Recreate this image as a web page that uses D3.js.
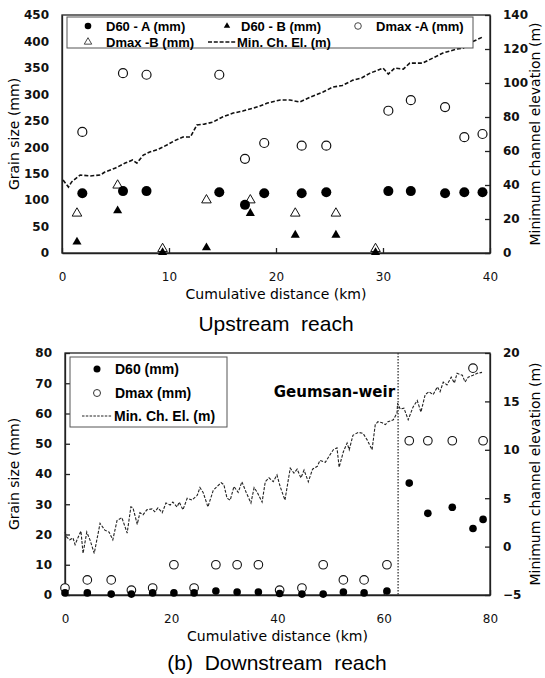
<!DOCTYPE html>
<html>
<head>
<meta charset="utf-8">
<script src="https://cdn.jsdelivr.net/npm/d3@7"></script>
<style>
body { margin: 0; background: white; }
</style>
</head>
<body>
<script>
// UPSTREAM REACH DATA
const upKmA = [1.9, 5.7, 7.9, 14.7, 17.1, 18.9, 22.4, 24.7, 30.5, 32.6, 35.8, 37.6, 39.3];
const upD60A = [113, 117, 117, 115, 91, 113, 113, 115, 117, 117, 113, 115, 115];
const upDmaxA = [229, 340, 337, 337, 178, 208, 203, 203, 269, 289, 276, 219, 225];
const upKmB = [1.4, 5.2, 9.4, 13.5, 17.6, 21.8, 25.6, 29.3];
const upD60B = [21, 80, 1, 10, 75, 34, 34, 1];
const upDmaxB = [75, 128, 8, 100, 100, 75, 75, 8];
const upElevKm = [0.1, 0.6, 0.9, 1.7, 2.6, 3.6, 4.0, 5.0, 5.9, 6.6, 7.0, 7.6, 8.2, 9.0, 9.8, 10.5, 11.3, 12.0, 12.6, 13.3, 14.1, 15.0, 16.0, 16.9, 17.9, 18.5, 19.2, 20.4, 21.3, 22.2, 23.2, 24.4, 25.3, 26.2, 27.2, 28.0, 28.8, 30.0, 30.5, 31.1, 31.9, 32.5, 33.7, 34.6, 35.6, 36.9, 37.5, 38.1, 39.3];
const upElev = [42.9, 38.8, 41.8, 45.9, 45.3, 45.9, 47.6, 50.0, 52.9, 54.7, 52.9, 57.6, 59.4, 61.0, 63.5, 66.0, 68.2, 68.2, 75.3, 75.8, 77.0, 80.0, 82.3, 83.5, 85.3, 86.5, 88.2, 90.0, 90.0, 88.8, 91.7, 94.7, 97.6, 98.5, 101.7, 103.0, 105.8, 108.8, 105.3, 108.8, 108.2, 111.7, 111.7, 114.5, 117.6, 120.0, 120.5, 123.5, 127.0];

// DOWNSTREAM REACH DATA
const dnKm = [0, 4.2, 8.7, 12.5, 16.5, 20.5, 24.3, 28.4, 32.4, 36.4, 40.4, 44.6, 48.6, 52.4, 56.3, 60.6, 64.8, 68.3, 72.9, 76.8, 78.7];
const dnD60 = [0.7, 0.7, 0.3, 0.3, 0.7, 0.7, 0.7, 1.3, 1, 1, 0.5, 0.3, 0.3, 1, 0.7, 1.3, 37, 27, 29, 22, 25];
const dnDmax = [2.3, 5, 5, 1.6, 2.3, 10, 2.3, 10, 10, 10, 1.6, 2.3, 10, 5, 5, 10, 51, 51, 51, 75, 51];
const dnElevKm = [0, 0.3, 0.9, 1.5, 1.9, 2.5, 3.0, 3.4, 4.1, 4.7, 5.5, 6.6, 7.5, 8.3, 9.0, 9.8, 10.7, 11.7, 12.4, 12.8, 13.6, 14.1, 14.7, 15.4, 16.4, 16.9, 17.5, 18.3, 19.0, 19.8, 20.3, 21.1, 21.5, 22.2, 23.0, 23.9, 24.9, 25.4, 26.0, 26.9, 27.9, 28.6, 29.4, 29.9, 30.5, 31.1, 31.8, 32.6, 33.3, 34.1, 35.0, 35.6, 36.2, 37.1, 37.7, 38.4, 39.2, 39.9, 40.5, 41.4, 42.4, 43.1, 43.7, 44.4, 45.0, 45.8, 46.6, 47.5, 48.0, 49.0, 49.9, 50.5, 51.2, 51.6, 52.4, 53.1, 53.5, 54.2, 55.2, 56.1, 56.9, 57.8, 58.4, 58.9, 59.7, 60.3, 60.8, 61.8, 62.5, 62.6, 63.1, 63.8, 64.6, 65.5, 66.3, 67.0, 67.8, 68.5, 69.3, 70.1, 70.6, 71.2, 71.9, 72.7, 73.3, 73.8, 74.8, 75.3, 75.9, 76.8, 77.6, 78.5];
const dnElev = [1.5, 1.0, 0.7, 0.9, 0.2, 1.0, 1.6, -0.7, 1.5, 0.7, -0.7, 2.4, 1.7, 1.5, 0.7, 2.7, 3.0, 1.4, 4.1, 4.0, 2.3, 3.5, 3.3, 3.8, 3.9, 3.6, 4.0, 3.5, 4.5, 4.3, 4.6, 4.1, 4.6, 3.8, 5.0, 4.8, 5.3, 6.1, 5.6, 4.1, 5.8, 6.2, 6.6, 6.4, 5.0, 4.8, 6.2, 5.6, 6.7, 5.6, 4.5, 6.1, 5.6, 4.6, 6.7, 7.1, 6.7, 7.4, 6.2, 4.8, 8.1, 7.6, 8.0, 7.1, 7.9, 6.7, 8.0, 8.3, 8.9, 8.7, 9.5, 10.0, 10.2, 8.2, 9.8, 10.7, 10.0, 11.5, 11.8, 11.7, 11.0, 10.0, 12.6, 12.9, 12.8, 12.6, 12.9, 13.1, 13.8, 14.8, 14.2, 14.3, 13.1, 14.4, 15.1, 13.9, 15.7, 16.0, 15.7, 16.5, 16.0, 17.0, 16.7, 17.5, 16.9, 17.9, 17.7, 17.0, 17.5, 17.7, 17.9, 18.0];
const weirKm = 62.7;

const W = 545, H = 678;
const svg = d3.select("body").append("svg")
    .attr("width", W).attr("height", H)
    .style("background", "white");

const axisColor = "#222";

// draw frame + 3 axes for one panel
function drawAxes(x, yL, yR, xTicks, yLTicks, yRTicks, leftTickSize) {
    const g = svg.append("g");
    const [x0, x1] = x.range();
    const [yb, yt] = yL.range();

    g.append("g").attr("transform", `translate(0,${yb})`)
        .call(d3.axisBottom(x).tickValues(xTicks).tickSize(-5).tickSizeOuter(0).tickPadding(19))
        .call(a => a.selectAll("text").style("font", "12px 'DejaVu Sans'").attr("fill", "#111"));
    g.append("g").attr("transform", `translate(${x0},0)`)
        .call(d3.axisLeft(yL).tickValues(yLTicks).tickSize(-leftTickSize).tickSizeOuter(0).tickPadding(13))
        .call(a => a.selectAll("text").style("font", "bold 12px 'DejaVu Sans'").attr("fill", "#111"));
    g.append("g").attr("transform", `translate(${x1},0)`)
        .call(d3.axisRight(yR).tickValues(yRTicks).tickSize(-5).tickSizeOuter(0).tickPadding(13))
        .call(a => a.selectAll("text").style("font", "bold 12px 'DejaVu Sans'").attr("fill", "#111"));
    g.selectAll("line, path").attr("stroke", axisColor).attr("stroke-width", 1.3);

    // top border
    g.append("rect").attr("x", x0).attr("y", yt).attr("width", x1 - x0).attr("height", yb - yt)
        .attr("fill", "none").attr("stroke", axisColor).attr("stroke-width", 1.3);

    // titles
    g.append("text").attr("x", (x0 + x1) / 2).attr("y", yb + 46)
        .attr("text-anchor", "middle").style("font", "14px 'DejaVu Sans'")
        .text("Cumulative distance (km)");
    g.append("text").attr("transform", `translate(19,${(yb + yt) / 2}) rotate(-90)`)
        .attr("text-anchor", "middle").style("font", "14px 'DejaVu Sans'")
        .text("Grain size (mm)");
    g.append("text").attr("transform", `translate(540,${(yb + yt) / 2}) rotate(-90)`)
        .attr("text-anchor", "middle").style("font", "14px 'DejaVu Sans'")
        .text("Minimum channel elevation (m)");
    return g;
}

// ================= UPSTREAM =================
const x1 = d3.scaleLinear().domain([0, 40]).range([62, 490]);
const y1 = d3.scaleLinear().domain([0, 450]).range([253, 15]);
const y1r = d3.scaleLinear().domain([0, 140]).range([253, 15]);

drawAxes(x1, y1, y1r, d3.range(0, 41, 10), d3.range(0, 451, 50), d3.range(0, 141, 20), 0);

const tri = d3.symbol().type(d3.symbolTriangle);

svg.append("path")
    .datum(upElevKm.map((k, i) => [k, upElev[i]]))
    .attr("fill", "none").attr("stroke", "#111").attr("stroke-width", 1.6)
    .attr("stroke-dasharray", "4,2")
    .attr("d", d3.line().x(d => x1(d[0])).y(d => y1r(d[1])));

svg.append("g").selectAll("circle").data(upKmA).enter().append("circle")
    .attr("cx", d => x1(d)).attr("cy", (d, i) => y1(upDmaxA[i])).attr("r", 4.5)
    .attr("fill", "white").attr("stroke", "#111").attr("stroke-width", 1.2);
svg.append("g").selectAll("path").data(upKmB).enter().append("path")
    .attr("transform", (d, i) => `translate(${x1(d)},${y1(upDmaxB[i])})`)
    .attr("d", tri.size(40)).attr("fill", "white").attr("stroke", "#111").attr("stroke-width", 1);
svg.append("g").selectAll("path").data(upKmB).enter().append("path")
    .attr("transform", (d, i) => `translate(${x1(d)},${y1(upD60B[i])})`)
    .attr("d", tri.size(36)).attr("fill", "#000");
svg.append("g").selectAll("circle").data(upKmA).enter().append("circle")
    .attr("cx", d => x1(d)).attr("cy", (d, i) => y1(upD60A[i])).attr("r", 5)
    .attr("fill", "#000");

// legend (upstream)
const leg1 = svg.append("g").style("font", "13px 'Liberation Sans', Arial").style("font-weight", "600");
leg1.append("rect").attr("x", 67).attr("y", 17).attr("width", 406).attr("height", 31)
    .attr("fill", "white").attr("stroke", "#555").attr("stroke-width", 1);
leg1.append("circle").attr("cx", 88).attr("cy", 26).attr("r", 3.3).attr("fill", "#000");
leg1.append("text").attr("x", 106).attr("y", 30.5).text("D60 - A (mm)");
leg1.append("path").attr("transform", "translate(227,26)").attr("d", tri.size(18)).attr("fill", "#000");
leg1.append("text").attr("x", 241).attr("y", 30.5).text("D60 - B (mm)");
leg1.append("circle").attr("cx", 358).attr("cy", 26).attr("r", 3.3).attr("fill", "white").attr("stroke", "#333").attr("stroke-width", 0.9);
leg1.append("text").attr("x", 376).attr("y", 30.5).text("Dmax -A (mm)");
leg1.append("path").attr("transform", "translate(88,42)").attr("d", tri.size(24)).attr("fill", "white").attr("stroke", "#333").attr("stroke-width", 0.9);
leg1.append("text").attr("x", 106).attr("y", 46.5).text("Dmax -B (mm)");
leg1.append("line").attr("x1", 208).attr("x2", 236).attr("y1", 42).attr("y2", 42)
    .attr("stroke", "#111").attr("stroke-width", 1.4).attr("stroke-dasharray", "4,1.8");
leg1.append("text").attr("x", 237).attr("y", 46.5).text("Min. Ch. El. (m)");

svg.append("text").attr("x", 276).attr("y", 331).attr("text-anchor", "middle")
    .style("font", "21px 'Liberation Sans', Arial").attr("xml:space", "preserve")
    .text("Upstream  reach");

// ================= DOWNSTREAM =================
const x2 = d3.scaleLinear().domain([0, 80]).range([65, 490]);
const y2 = d3.scaleLinear().domain([0, 80]).range([595, 353]);
const y2r = d3.scaleLinear().domain([-5, 20]).range([595, 353]);

drawAxes(x2, y2, y2r, d3.range(0, 81, 20), d3.range(0, 81, 10), d3.range(-5, 21, 5), 5);

// weir marker
svg.append("line").attr("x1", x2(weirKm)).attr("x2", x2(weirKm)).attr("y1", 353).attr("y2", 595)
    .attr("stroke", "#333").attr("stroke-width", 1.3).attr("stroke-dasharray", "1.5,1.5");
svg.append("text").attr("x", x2(weirKm) - 3).attr("y", 397).attr("text-anchor", "end")
    .style("font", "bold 15px 'DejaVu Sans'").text("Geumsan-weir");

svg.append("path")
    .datum(dnElevKm.map((k, i) => [k, dnElev[i]]))
    .attr("fill", "none").attr("stroke", "#222").attr("stroke-width", 1.1)
    .attr("stroke-dasharray", "3,1.5")
    .attr("d", d3.line().x(d => x2(d[0])).y(d => y2r(d[1])));

svg.append("g").selectAll("circle").data(dnKm).enter().append("circle")
    .attr("cx", d => x2(d)).attr("cy", (d, i) => y2(dnDmax[i])).attr("r", 4.3)
    .attr("fill", "white").attr("stroke", "#111").attr("stroke-width", 1.1);
svg.append("g").selectAll("circle").data(dnKm).enter().append("circle")
    .attr("cx", d => x2(d)).attr("cy", (d, i) => y2(dnD60[i])).attr("r", 3.8)
    .attr("fill", "#000");

// legend (downstream)
const leg2 = svg.append("g").style("font", "14px 'Liberation Sans', Arial").style("font-weight", "600");
leg2.append("rect").attr("x", 70).attr("y", 357).attr("width", 157).attr("height", 70)
    .attr("fill", "white").attr("stroke", "#555").attr("stroke-width", 1);
leg2.append("circle").attr("cx", 97).attr("cy", 369).attr("r", 3.5).attr("fill", "#000");
leg2.append("text").attr("x", 115).attr("y", 374).text("D60 (mm)");
leg2.append("circle").attr("cx", 97).attr("cy", 393).attr("r", 3.5).attr("fill", "white").attr("stroke", "#333").attr("stroke-width", 1);
leg2.append("text").attr("x", 115).attr("y", 398).text("Dmax (mm)");
leg2.append("line").attr("x1", 82).attr("x2", 112).attr("y1", 416).attr("y2", 416)
    .attr("stroke", "#222").attr("stroke-width", 1).attr("stroke-dasharray", "2.5,1.3");
leg2.append("text").attr("x", 114).attr("y", 421).text("Min. Ch. El. (m)");

svg.append("text").attr("x", 277).attr("y", 670).attr("text-anchor", "middle")
    .style("font", "21px 'Liberation Sans', Arial").attr("xml:space", "preserve")
    .text("(b)  Downstream  reach");
</script>
</body>
</html>
